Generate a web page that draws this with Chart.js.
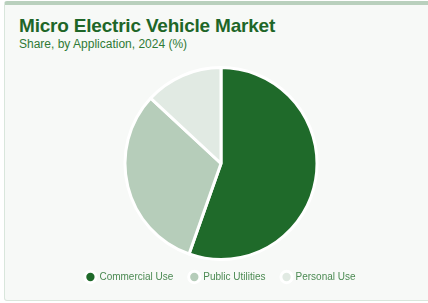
<!DOCTYPE html>
<html>
<head>
<meta charset="utf-8">
<script src="https://cdn.jsdelivr.net/npm/chart.js@4"></script>
<style>
  html, body { margin: 0; padding: 0; background: #ffffff; width: 428px; height: 303px; overflow: hidden; }
  #card {
    position: absolute; left: 4px; top: 1px; width: 440px; height: 295px;
    background: #f7f9f7; border: 1px solid #d9e6dc; border-top: 4px solid #b9d0bd;
    border-radius: 3px;
  }
  #title {
    position: absolute; left: 14px; top: 10px; margin: 0;
    font: bold 19px "Liberation Sans", Arial, sans-serif; color: #1e6628; letter-spacing: -0.2px;
  }
  #subtitle {
    position: absolute; left: 14px; top: 32px; margin: 0;
    font: 12px "Liberation Sans", Arial, sans-serif; color: #2f7a36;
  }
  #wrap { position: absolute; left: -4px; top: 57px; width: 440px; height: 236px; }
</style>
</head>
<body>
<div id="card">
  <div id="title">Micro Electric Vehicle Market</div>
  <div id="subtitle">Share, by Application, 2024 (%)</div>
  <div id="wrap"><canvas id="pie"></canvas></div>
</div>
<script>
var applications = ["Commercial Use", "Public Utilities", "Personal Use"];
var shares = [55.4, 31.5, 13.1];
var sliceColours = ["#1f6a2a", "#b6cdba", "#e1eae3"];

// pull the legend up a little, closer to the pie
var legendNudge = {
  id: 'legendNudge',
  afterLayout: function(chart) {
    if (chart.legend) {
      chart.legend.top -= 6;
      chart.legend.bottom -= 6;
    }
  }
};

var config = {
  type: 'pie',
  data: {
    labels: applications,
    datasets: [{
      data: shares,
      backgroundColor: sliceColours,
      borderColor: '#ffffff',
      borderWidth: 3
    }]
  },
  options: {
    responsive: true,
    maintainAspectRatio: false,
    animation: false,
    layout: { padding: { top: 4, bottom: 0 } },
    plugins: {
      tooltip: { enabled: false },
      legend: {
        position: 'bottom',
        labels: {
          usePointStyle: true,
          pointStyle: 'circle',
          boxWidth: 8,
          boxHeight: 8,
          padding: 17,
          color: '#4b8a52',
          font: { family: "'Liberation Sans', Arial, sans-serif", size: 10 }
        }
      }
    }
  },
  plugins: [legendNudge]
};

var ctx = document.getElementById("pie").getContext("2d");
window.myPie = new Chart(ctx, config);
</script>
</body>
</html>
